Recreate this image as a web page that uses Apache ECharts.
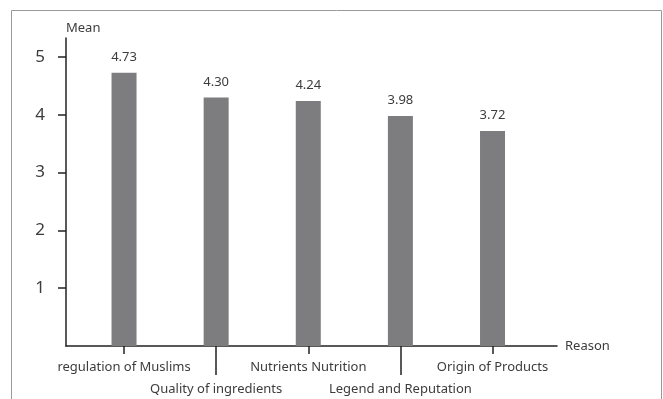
<!DOCTYPE html>
<html>
<head>
<meta charset="utf-8">
<script src="https://cdn.jsdelivr.net/npm/echarts@6/dist/echarts.min.js"></script>
<style>
  html, body { margin: 0; padding: 0; background: #fff; }
  #chart { width: 663px; height: 399px; }
</style>
</head>
<body>
<div id="chart"></div>
<script>
// Reasons for choosing products, with their mean scores
const reasons = [
  'regulation of Muslims',
  'Quality of ingredients',
  'Nutrients Nutrition',
  'Legend and Reputation',
  'Origin of Products'
];
const meanScores = [4.73, 4.30, 4.24, 3.98, 3.72];
const meanTicks = [1, 2, 3, 4, 5];
// category labels alternate between two rows
const upperRow = [0, 2, 4];
const lowerRow = [1, 3];

const FONT = 'Noto Sans';
const TEXT = '#3c3c3c';
const AXIS = '#222';

const chart = echarts.init(document.getElementById('chart'), null, { renderer: 'canvas' });

const sharedX = {
  type: 'value',
  min: -0.63,
  max: 4.70,
  splitLine: { show: false },
  gridIndex: 0
};

chart.setOption({
  animation: false,
  backgroundColor: '#fff',
  textStyle: { fontFamily: FONT },
  graphic: [{
    type: 'rect',
    shape: { x: 11.5, y: 10.5, width: 650, height: 420 },
    style: { fill: 'none', stroke: '#999', lineWidth: 1 },
    silent: true
  }],
  grid: { left: 66, top: 38, right: 106, bottom: 53, containLabel: false },
  xAxis: [
    Object.assign({}, sharedX, {
      name: 'Reason',
      nameLocation: 'end',
      nameGap: 8,
      nameTextStyle: { fontFamily: FONT, fontSize: 13, color: TEXT, padding: [0, 0, 8, 0] },
      axisLine: { show: true, onZero: false, lineStyle: { color: AXIS, width: 1.5 } },
      axisTick: { show: true, customValues: upperRow, length: 8, lineStyle: { color: AXIS, width: 1.5 } },
      axisLabel: {
        show: true, customValues: upperRow, margin: 15,
        fontFamily: FONT, fontSize: 13, color: TEXT,
        formatter: v => reasons[Math.round(v)]
      }
    }),
    Object.assign({}, sharedX, {
      position: 'bottom',
      axisLine: { show: false, onZero: false },
      axisTick: { show: true, customValues: lowerRow, length: 29, lineStyle: { color: AXIS, width: 1.5 } },
      axisLabel: {
        show: true, customValues: lowerRow, margin: 37,
        fontFamily: FONT, fontSize: 13, color: TEXT,
        formatter: v => reasons[Math.round(v)]
      }
    })
  ],
  yAxis: {
    type: 'value',
    min: 0,
    max: 5.33,
    name: 'Mean',
    nameLocation: 'end',
    nameGap: 10,
    nameTextStyle: { fontFamily: FONT, fontSize: 13, color: TEXT, align: 'left', verticalAlign: 'middle' },
    splitLine: { show: false },
    axisLine: { show: true, onZero: false, lineStyle: { color: AXIS, width: 1.5 } },
    axisTick: { show: true, customValues: meanTicks, length: 8, lineStyle: { color: AXIS, width: 1.5 } },
    axisLabel: { show: true, customValues: meanTicks, margin: 21, fontFamily: FONT, fontSize: 17, color: TEXT }
  },
  series: [{
    type: 'bar',
    xAxisIndex: 0,
    yAxisIndex: 0,
    barWidth: 25,
    data: meanScores.map((v, i) => [i, v]),
    itemStyle: { color: '#7d7d7f' },
    label: {
      show: true,
      position: 'top',
      distance: 9,
      fontFamily: FONT,
      fontSize: 13,
      color: TEXT,
      formatter: p => p.value[1].toFixed(2)
    }
  }]
});
</script>
</body>
</html>
